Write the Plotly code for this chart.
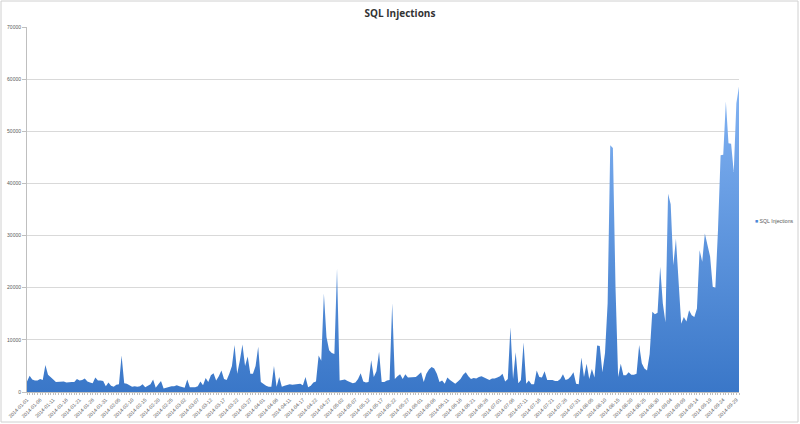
import pandas as pd
import plotly.graph_objects as go

# Daily categories: 2014-01-01 .. 2014-09-30, one day missing in April
all_days = pd.date_range("2014-01-01", "2014-09-30", freq="D")
dates = [d.strftime("%Y-%m-%d") for d in all_days if d.strftime("%Y-%m-%d") != "2014-04-14"]

sql_injections = [
    2000, 3100, 2400, 2200, 2200, 2500, 2300, 5200, 3300, 2900,
    2400, 1900, 1900, 1900, 2000, 1800, 1900, 1900, 1900, 2500,
    2200, 2300, 2600, 2000, 1800, 1700, 2800, 2200, 2200, 2100,
    1100, 1800, 1200, 1000, 1400, 1500, 7000, 1700, 1600, 1300,
    1000, 1100, 1000, 1100, 1500, 900, 1200, 1500, 2400, 800,
    1500, 2100, 650, 800, 1000, 1100, 1100, 1300, 1100, 900,
    800, 2400, 900, 900, 900, 1100, 2000, 1300, 2700, 1900,
    3200, 3600, 2200, 3000, 4100, 2500, 2300, 3500, 5000, 9000,
    3500, 6000, 9100, 5000, 6800, 3500, 3500, 5000, 8700, 1900,
    1500, 1200, 1000, 1000, 5000, 1000, 2900, 1000, 1200, 1300,
    1500, 1400, 1500, 1600, 1600, 1300, 2900, 900, 1200, 1800,
    2000, 7000, 6000, 18900, 10500, 8000, 7500, 7300, 23700, 2200,
    2300, 2400, 2100, 1900, 1700, 1800, 2500, 3600, 2000, 1800,
    1900, 6100, 2900, 4000, 7700, 1900, 1900, 2200, 2300, 17000,
    2500, 3000, 3400, 2500, 3400, 2800, 2800, 2800, 2900, 3300,
    3800, 1900, 3500, 4300, 4800, 4500, 3500, 1900, 2200, 1600,
    2800, 2300, 2000, 1600, 2000, 2500, 3300, 3800, 3000, 2500,
    2700, 2600, 2900, 3000, 2800, 2500, 2300, 2600, 2600, 2800,
    3000, 3500, 2000, 2500, 12400, 2500, 7600, 1700, 2300, 9500,
    1600, 2200, 1500, 1500, 4100, 2900, 2800, 4000, 2300, 2300,
    2300, 2100, 2100, 2500, 3400, 2300, 2500, 3000, 3800, 1600,
    1500, 6600, 2900, 5400, 2500, 4400, 2800, 8900, 8800, 3800,
    7500, 17000, 47300, 46800, 20000, 2900, 5400, 3200, 3200, 3800,
    3300, 3300, 3500, 9000, 5500, 4500, 4100, 7300, 15400, 14900,
    15200, 24000, 17000, 13400, 38000, 36000, 24300, 29400, 21400, 13100,
    14400, 13500, 15700, 14700, 14400, 16000, 27200, 25000, 30400, 28000,
    26000, 20200, 20000, 31000, 45400, 45500, 55700, 47700, 47600, 42200,
    55400, 58600,
]

series_name = "SQL Injections"
y_ticks = [0, 10000, 20000, 30000, 40000, 50000, 60000, 70000]
y_tick_labels = [str(v) for v in y_ticks]

n = min(len(dates), len(sql_injections))
dates = dates[:n]
sql_injections = sql_injections[:n]

tick_text = [d if i % 5 == 0 else "" for i, d in enumerate(dates)]

fig = go.Figure()
fig.add_trace(go.Scatter(
    x=dates, y=sql_injections, name=series_name,
    mode="lines", line=dict(width=0, color="#3f7dcc"),
    fill="tozeroy",
    fillgradient=dict(type="vertical",
                      colorscale=[[0, "#3a77c8"], [1, "#82b3f3"]]),
    showlegend=False,
))

fig.update_layout(
    width=800, height=424,
    paper_bgcolor="white", plot_bgcolor="white",
    margin=dict(l=27, r=61, t=27, b=32, autoexpand=False),
    title=dict(text="<b>SQL Injections</b>", x=0.5, xanchor="center",
               y=1 - 13 / 424, yanchor="middle",
               font=dict(family="Open Sans, Liberation Sans, sans-serif", size=10, color="#333333")),
    font=dict(family="Liberation Sans, Arial, sans-serif", size=6, color="#595959"),
    showlegend=False,
    xaxis=dict(type="category", range=[0, n - 1],
               tickmode="array", tickvals=dates, ticktext=tick_text,
               tickangle=-45, tickfont=dict(size=5, color="#595959"),
               ticks="outside", ticklen=2, tickcolor="#bfbfbf",
               showline=True, linecolor="#bfbfbf", linewidth=1,
               showgrid=False, zeroline=False, automargin=False),
    yaxis=dict(range=[0, 70000], tickvals=y_ticks, ticktext=y_tick_labels,
               tickfont=dict(size=5, color="#595959"),
               ticks="outside", ticklen=4, tickcolor="#bfbfbf",
               showline=True, linecolor="#bfbfbf", linewidth=1,
               showgrid=True, gridcolor="#d9d9d9", gridwidth=1,
               zeroline=False, automargin=False),
    annotations=[dict(xref="paper", yref="paper", x=1.02, y=0.468,
                      xanchor="left", yanchor="middle", showarrow=False,
                      text='<span style="color:#4a88d8">■</span> ' + series_name,
                      font=dict(family="Liberation Sans, Arial, sans-serif", size=5.2, color="#595959"))],
    shapes=[dict(type="rect", xref="paper", yref="paper",
                 x0=(1 - 27) / 712, x1=(798 - 27) / 712,
                 y0=(392 - 422) / 365, y1=(392 - 1) / 365,
                 line=dict(color="#d0d0d0", width=1), layer="below")],
)

fig.write_html("out.html",
               config={"displayModeBar": False},
               post_script="document.body.style.margin='0';document.body.style.overflow='hidden';")
